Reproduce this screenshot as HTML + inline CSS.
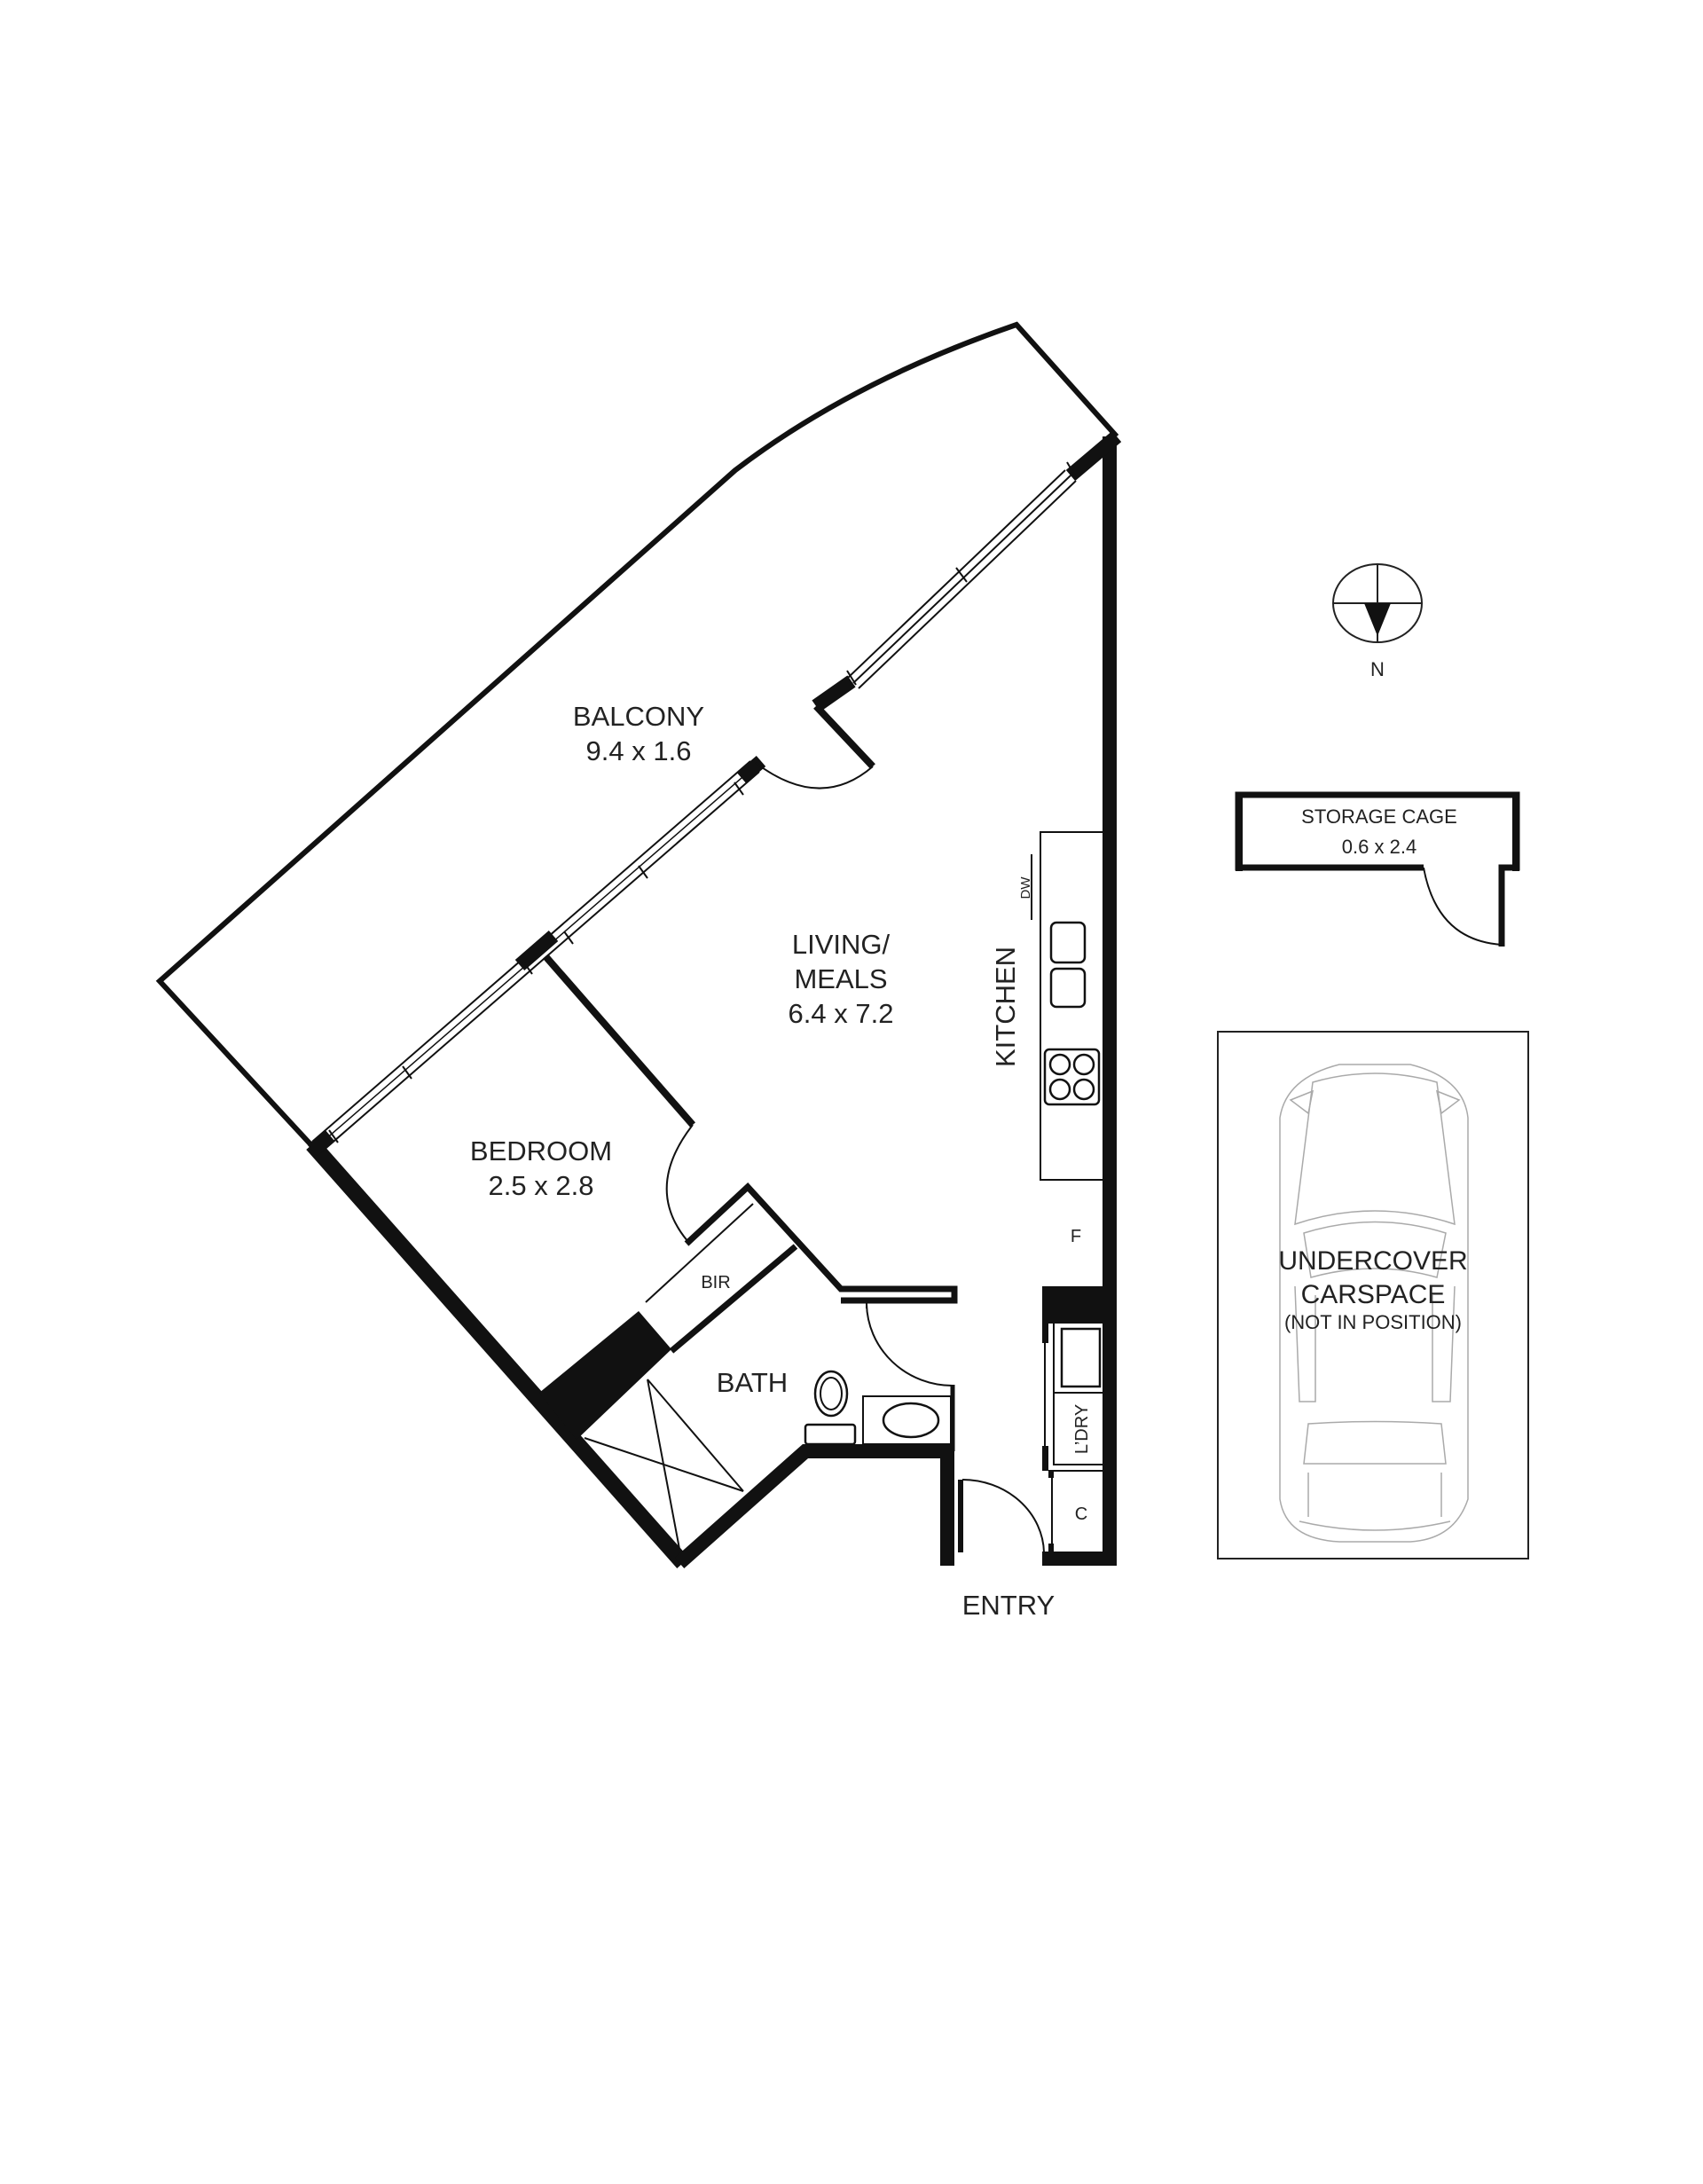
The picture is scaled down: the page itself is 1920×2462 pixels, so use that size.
<!DOCTYPE html>
<html><head><meta charset="utf-8"><style>
html,body{margin:0;padding:0;background:#fff}
svg{display:block}
text{font-family:"Liberation Sans",Arial,sans-serif;fill:#222}
</style></head><body>
<svg width="1920" height="2462" viewBox="0 0 1920 2462" xmlns="http://www.w3.org/2000/svg">
<rect width="1920" height="2462" fill="#fff"/>
<g fill="none" stroke="#111" stroke-linejoin="miter">
<path d="M352,1292 L180,1106 L829,530 Q960,430 1146,366 L1259,492" stroke-width="6"/>
<path d="M1251,492 L1251,1765" stroke-width="16"/>
<path d="M352,1290 L770,1762" stroke-width="18"/>
<path d="M766,1762 L908,1636 L1068,1636 L1068,1765" stroke-width="16"/>
<path d="M1083,1668 L1083,1750" stroke-width="6"/>
<path d="M1175,1757 L1259,1757" stroke-width="16"/>
<path d="M357,1293 L851,864" stroke-width="14" stroke="#fff"/>
<path d="M352,1287 L846,858 M362,1299 L856,870" stroke-width="2"/>
<path d="M357,1293 L851,864" stroke-width="1.5"/>
<path d="M352,1297 L372,1280 M586,1088 L624,1055 M836,877 L858,858" stroke-width="16" stroke="#111"/>
<path d="M371,1274 L381,1288 M454,1202 L464,1216 M590,1084 L600,1098 M636,1050 L646,1064 M720,976 L730,990 M828,882 L838,896" stroke-width="2"/>
<path d="M962,770 L1207,536" stroke-width="2"/>
<path d="M956,764 L1201,530 M968,776 L1213,542" stroke-width="2"/>
<path d="M920,796 L960,768 M1207,536 L1259,492" stroke-width="16"/>
<path d="M955,756 L965,772 M1078,640 L1090,656 M1203,521 L1213,538" stroke-width="2"/>
<path d="M920,796 L984,864" stroke-width="8"/>
<path d="M852,860 Q925,915 984,864" stroke-width="2"/>
<path d="M615,1078 L781,1268" stroke-width="8"/>
<path d="M781,1268 Q725,1340 776,1400" stroke-width="2"/>
<path d="M774,1402 L843,1338 L948,1453 L1076,1453 L1076,1466 L948,1466" stroke-width="7"/>
<path d="M849,1357 L728,1468" stroke-width="2"/>
<path d="M897,1405 L757,1523" stroke-width="7"/>
<polygon points="720,1478 757,1521 650,1623 608,1570" fill="#111" stroke="none"/>
<path d="M659,1621 L838,1681 M730,1555 L766,1746 M730,1555 L838,1681" stroke-width="2"/>
<path d="M977,1466 L977,1475 M977,1470 A97,94 0 0 0 1074,1562" stroke-width="2"/>
<path d="M1074,1561 L1074,1636" stroke-width="5"/>
<ellipse cx="937" cy="1571" rx="18" ry="25" stroke-width="2.5"/>
<ellipse cx="937" cy="1571" rx="12" ry="18" stroke-width="2"/>
<rect x="908" y="1606" width="56" height="22" rx="3" stroke-width="2.5"/>
<rect x="973" y="1574" width="99" height="54" stroke-width="2"/>
<ellipse cx="1027" cy="1601" rx="31" ry="19" stroke-width="2.5"/>
<path d="M1243,938 L1173,938 L1173,1330 L1243,1330" stroke-width="2"/>
<path d="M1163,963 L1163,1037" stroke-width="2"/>
<rect x="1185" y="1040" width="38" height="45" rx="6" stroke-width="2.5"/>
<rect x="1185" y="1092" width="38" height="43" rx="6" stroke-width="2.5"/>
<rect x="1178" y="1183" width="61" height="62" rx="5" stroke-width="2.5"/>
<circle cx="1195" cy="1200" r="11" stroke-width="2.5"/><circle cx="1222" cy="1200" r="11" stroke-width="2.5"/>
<circle cx="1195" cy="1228" r="11" stroke-width="2.5"/><circle cx="1222" cy="1228" r="11" stroke-width="2.5"/>
<rect x="1175" y="1450" width="72" height="42" fill="#111" stroke="none"/>
<rect x="1175" y="1492" width="7" height="22" fill="#111" stroke="none"/>
<rect x="1175" y="1630" width="7" height="28" fill="#111" stroke="none"/>
<path d="M1178,1514 L1178,1630" stroke-width="2"/>
<path d="M1188,1492 L1188,1651 L1247,1651 M1188,1570 L1247,1570" stroke-width="2"/>
<rect x="1197" y="1498" width="43" height="65" stroke-width="2.5"/>
<path d="M1186,1658 L1186,1748 M1182,1658 L1247,1658" stroke-width="2"/>
<rect x="1182" y="1658" width="6" height="8" fill="#111" stroke="none"/>
<rect x="1182" y="1740" width="6" height="12" fill="#111" stroke="none"/>
<path d="M1085,1668 A92,84 0 0 1 1177,1750" stroke-width="2"/>
</g>
<g font-size="31" text-anchor="middle">
<text x="720" y="818">BALCONY</text>
<text x="720" y="857">9.4 x 1.6</text>
<text x="948" y="1075">LIVING/</text>
<text x="948" y="1114">MEALS</text>
<text x="948" y="1153">6.4 x 7.2</text>
<text x="610" y="1308">BEDROOM</text>
<text x="610" y="1347">2.5 x 2.8</text>
<text x="848" y="1569">BATH</text>
<text x="1137" y="1820">ENTRY</text>
<text transform="translate(1144,1135) rotate(-90)">KITCHEN</text>
</g>
<g font-size="20" text-anchor="middle">
<text x="807" y="1452">BIR</text>
<text x="1213" y="1400">F</text>
<text x="1219" y="1713">C</text>
<text transform="translate(1226,1611) rotate(-90)">L’DRY</text>
<text transform="translate(1161,1001) rotate(-90)" font-size="15">DW</text>
</g>
<g stroke="#222" fill="none" stroke-width="2">
<ellipse cx="1553" cy="680" rx="50" ry="44"/>
<path d="M1503,680 L1603,680 M1553,636 L1553,724"/>
</g>
<polygon points="1538,680 1568,680 1553,717" fill="#111"/>
<text x="1553" y="762" font-size="22" text-anchor="middle">N</text>
<path d="M1605,978 L1396,978 L1396,896 L1710,896 L1710,978 L1693,978 L1693,1067" fill="none" stroke="#111" stroke-width="7"/>
<rect x="1393" y="893" width="8" height="89" fill="#111"/>
<rect x="1705" y="893" width="8" height="89" fill="#111"/>
<path d="M1605,978 Q1620,1060 1693,1065" fill="none" stroke="#111" stroke-width="2"/>
<text x="1555" y="928" font-size="22" text-anchor="middle">STORAGE CAGE</text>
<text x="1555" y="962" font-size="22" text-anchor="middle">0.6 x 2.4</text>
<rect x="1373" y="1163" width="350" height="594" fill="none" stroke="#222" stroke-width="2"/>
<g fill="none" stroke="#aaa" stroke-width="1.5">
<path d="M1510,1200 L1590,1200 Q1650,1215 1655,1260 L1655,1690 Q1640,1735 1590,1738 L1510,1738 Q1450,1735 1443,1690 L1443,1260 Q1450,1215 1510,1200 Z"/>
<path d="M1480,1220 Q1550,1200 1620,1220 L1640,1380 Q1550,1350 1460,1380 Z"/>
<path d="M1470,1390 Q1550,1365 1630,1390 L1620,1440 Q1550,1420 1478,1440 Z"/>
<path d="M1460,1450 L1465,1580 L1483,1580 L1483,1460 M1640,1450 L1635,1580 L1615,1580 L1615,1460"/>
<path d="M1475,1605 Q1550,1600 1625,1605 L1630,1650 L1470,1650 Z"/>
<path d="M1475,1660 L1475,1710 M1625,1660 L1625,1710 M1465,1715 Q1550,1735 1635,1715"/>
<path d="M1455,1240 L1480,1230 L1475,1255 Z M1645,1240 L1620,1230 L1625,1255 Z"/>
</g>
<g text-anchor="middle" fill="#222">
<text x="1548" y="1431" font-size="30">UNDERCOVER</text>
<text x="1548" y="1469" font-size="30">CARSPACE</text>
<text x="1548" y="1498" font-size="22">(NOT IN POSITION)</text>
</g>
</svg>
</body></html>
